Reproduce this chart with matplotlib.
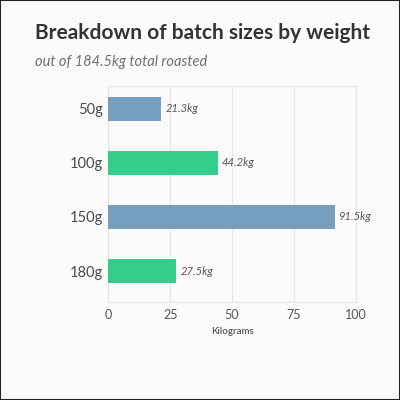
import matplotlib.pyplot as plt
from matplotlib.patches import Rectangle

# Datos
categorias = ["50g", "100g", "150g", "180g"]
kilos = [21.3, 44.2, 91.5, 27.5]
etiquetas = ["21.3kg", "44.2kg", "91.5kg", "27.5kg"]
colores = ["#769fbf", "#34cd8b", "#769fbf", "#34cd8b"]
ticks_x = [0, 25, 50, 75, 100]

fondo = "#fcfbf9"
plt.rcParams['font.family'] = ['Lato', 'DejaVu Sans']

fig = plt.figure(figsize=(4, 4), dpi=100, facecolor=fondo)
ax = fig.add_axes([0.271, 0.244, 0.618, 0.541], facecolor=fondo)

pos = list(range(len(categorias)))
ax.barh(pos, kilos, height=0.444, color=colores, zorder=3)
for p, v, et in zip(pos, kilos, etiquetas):
    ax.annotate(et, (v, p), xytext=(3, 0), textcoords="offset points",
                va="center", ha="left", fontsize=8, style="italic", color="#555555")

# margen inferior algo mayor que el superior, como en el original
ax.set_ylim(3.58, -0.42)
ax.set_xlim(0, 100)
ax.set_xticks(ticks_x)
ax.set_yticks(pos)
ax.set_yticklabels(categorias)
ax.tick_params(axis="y", length=0, pad=3.6, labelsize=10.5, labelcolor="#4a4a4a")
ax.tick_params(axis="x", length=0, pad=5, labelsize=9, labelcolor="#555555")
ax.grid(axis="x", color="#e6e6e6", linewidth=0.8, zorder=0)
for s in ax.spines.values():
    s.set_color("#e6e6e6")
    s.set_linewidth(0.8)
ax.set_xlabel("Kilograms", fontsize=7, fontweight="semibold", color="#555555", labelpad=4)

fig.text(0.0875, 0.918, "Breakdown of batch sizes by weight", fontsize=15,
         fontweight="bold", color="#333333", va="center", ha="left")
fig.text(0.0875, 0.845, "out of 184.5kg total roasted", fontsize=10.5,
         style="italic", color="#707070", va="center", ha="left")

fig.patches.append(Rectangle((0, 0), 1, 1, transform=fig.transFigure, fill=False,
                             edgecolor="#222222", linewidth=1.5))

fig.savefig("out.png", dpi=100, facecolor=fondo)
